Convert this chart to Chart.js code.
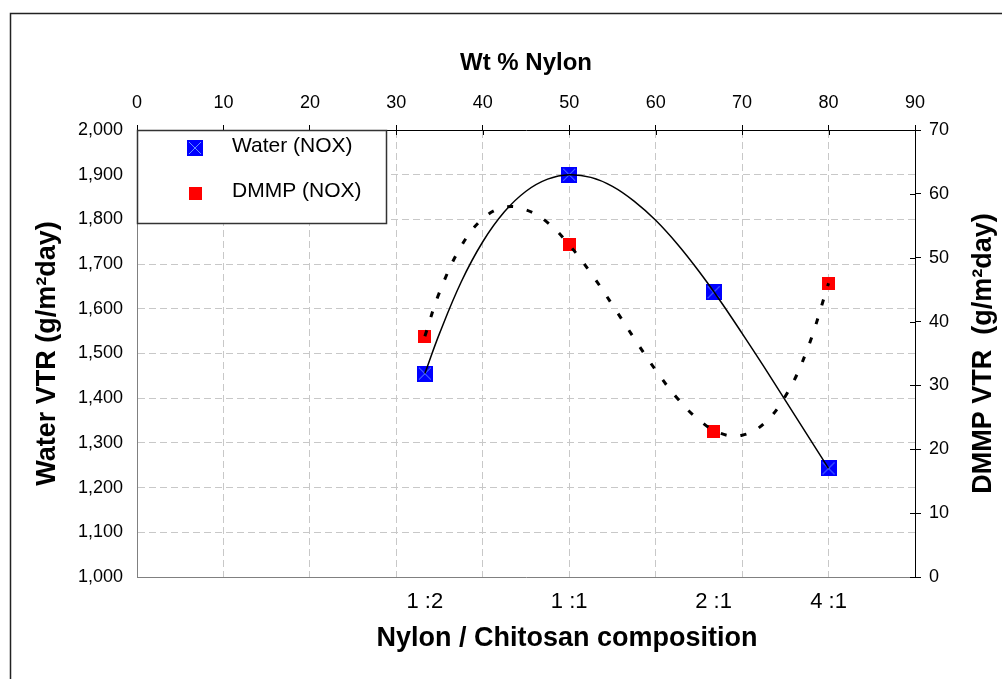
<!DOCTYPE html>
<html>
<head>
<meta charset="utf-8">
<script src="https://cdn.jsdelivr.net/npm/chart.js@4.4.1/dist/chart.umd.min.js"></script>
<style>
  html, body { margin: 0; padding: 0; background: #fff; }
  #wrap { width: 1002px; height: 679px; }
</style>
</head>
<body>
<div id="wrap"><canvas id="vtrChart" width="1002" height="679"></canvas></div>
<script>
// data
const wtNylon = [33.3, 50, 66.7, 80];
const compLabels = ['1 :2', '1 :1', '2 :1', '4 :1'];
const waterVTR = [1455, 1900, 1637, 1243];
const dmmpVTR = [37.7, 52, 22.8, 46];

// trend lines, sampled along the drawn curves
const trendX = [33.3, 35, 37.5, 40, 42.5, 45, 47.5, 50, 52.5, 55, 57.5, 60, 62.5, 65, 67.5, 70, 72.5, 75, 77.5, 80];
const waterTrend = [1455, 1545, 1660, 1750, 1817, 1863, 1890, 1900, 1894, 1874, 1841, 1798, 1745, 1684, 1617, 1545, 1471, 1395, 1319, 1243];
const dmmpTrend = [37.7, 44.6, 51.8, 56.1, 57.9, 57.5, 55.5, 52, 47.6, 42.6, 37.4, 32.4, 28.0, 24.6, 22.5, 22.2, 24.0, 28.3, 35.5, 46];

const FONT = "'Liberation Sans', Arial, sans-serif";

// marker images
function makeWaterMark() {
    const c = document.createElement('canvas');
    c.width = 16; c.height = 16;
    const g = c.getContext('2d');
    g.fillStyle = '#0000ff';
    g.fillRect(0, 0, 16, 16);
    g.strokeStyle = '#6690ff';
    g.lineWidth = 1;
    g.beginPath();
    g.moveTo(2, 2); g.lineTo(14, 14);
    g.moveTo(14, 2); g.lineTo(2, 14);
    g.stroke();
    return c;
}
function makeDmmpMark() {
    const c = document.createElement('canvas');
    c.width = 13; c.height = 13;
    const g = c.getContext('2d');
    g.fillStyle = '#ff0000';
    g.fillRect(0, 0, 13, 13);
    return c;
}
const waterMark = makeWaterMark();
const dmmpMark = makeDmmpMark();

const pts = (xs, ys) => xs.map((x, i) => ({ x: x, y: ys[i] }));

// outer frame + white background
const framePlugin = {
    id: 'framePlugin',
    beforeDraw(chart) {
        const c = chart.ctx;
        c.save();
        c.fillStyle = '#fff';
        c.fillRect(0, 0, chart.width, chart.height);
        c.strokeStyle = '#222';
        c.lineWidth = 1.5;
        c.strokeRect(10.5, 13.5, chart.width + 20, chart.height + 20);
        c.restore();
    }
};

// short ticks inside the plot on top and right axes
const innerTicks = {
    id: 'innerTicks',
    afterDraw(chart) {
        const c = chart.ctx, a = chart.chartArea;
        const top = chart.scales.xTop, right = chart.scales.y2;
        c.save();
        c.strokeStyle = '#000';
        c.lineWidth = 1;
        top.ticks.forEach(t => {
            const x = Math.round(top.getPixelForValue(t.value)) + 0.5;
            c.beginPath(); c.moveTo(x, a.top); c.lineTo(x, a.top + 5); c.stroke();
        });
        right.ticks.forEach(t => {
            const y = Math.round(right.getPixelForValue(t.value)) + 0.5;
            c.beginPath(); c.moveTo(a.right - 5, y); c.lineTo(a.right, y); c.stroke();
        });
        c.restore();
    }
};

// bottom title and right title (reads bottom to top)
const extraTitles = {
    id: 'extraTitles',
    afterDraw(chart) {
        const c = chart.ctx, a = chart.chartArea;
        c.save();
        c.fillStyle = '#000';
        c.font = 'bold 27px ' + FONT;
        c.textAlign = 'center';
        c.textBaseline = 'middle';
        c.fillText('Nylon / Chitosan composition', 567, 639);
        c.translate(984, (a.top + a.bottom) / 2);
        c.rotate(-Math.PI / 2);
        c.fillText('DMMP VTR  (g/m\u00B2day)', 0, 0);
        c.restore();
    }
};

// boxed legend in the top-left corner of the plot
const boxLegend = {
    id: 'boxLegend',
    afterDraw(chart) {
        const c = chart.ctx, a = chart.chartArea;
        const x0 = a.left, y0 = a.top, w = 249, h = 93;
        c.save();
        c.fillStyle = '#fff';
        c.fillRect(x0, y0, w, h);
        c.strokeStyle = '#333';
        c.lineWidth = 1.5;
        c.strokeRect(x0 + 0.5, y0 + 0.5, w, h);
        const items = chart.data.datasets.filter(d => d.type === 'scatter');
        const rowY = [y0 + 18, y0 + 63];
        c.font = '21px ' + FONT;
        c.fillStyle = '#000';
        c.textAlign = 'left';
        c.textBaseline = 'middle';
        items.forEach((d, i) => {
            const img = d.pointStyle;
            c.drawImage(img, x0 + 58 - img.width / 2, rowY[i] - img.height / 2);
            c.fillText(d.label, x0 + 95, rowY[i] - 2);
        });
        c.restore();
    }
};

const ctx = document.getElementById('vtrChart').getContext('2d');
const vtrChart = new Chart(ctx, {
    type: 'scatter',
    data: {
        datasets: [
            {
                type: 'line',
                label: 'water trend',
                data: pts(trendX, waterTrend),
                xAxisID: 'x', yAxisID: 'y',
                borderColor: '#000', borderWidth: 1.5,
                pointRadius: 0, tension: 0.4, fill: false,
                order: 0
            },
            {
                type: 'line',
                label: 'dmmp trend',
                data: pts(trendX, dmmpTrend),
                xAxisID: 'x', yAxisID: 'y2',
                borderColor: '#000', borderWidth: 3, borderDash: [6, 14],
                pointRadius: 0, tension: 0.4, fill: false,
                order: 0
            },
            {
                type: 'scatter',
                label: 'Water (NOX)',
                data: pts(wtNylon, waterVTR),
                xAxisID: 'x', yAxisID: 'y',
                pointStyle: waterMark, pointRadius: 8,
                order: 1
            },
            {
                type: 'scatter',
                label: 'DMMP (NOX)',
                data: pts(wtNylon, dmmpVTR),
                xAxisID: 'x', yAxisID: 'y2',
                pointStyle: dmmpMark, pointRadius: 7,
                order: 1
            }
        ]
    },
    options: {
        responsive: false,
        animation: false,
        events: [],
        layout: { padding: 0 },
        plugins: {
            legend: { display: false },
            tooltip: { enabled: false }
        },
        scales: {
            x: {
                type: 'linear', position: 'bottom', min: 0, max: 90,
                afterBuildTicks: s => { s.ticks = wtNylon.map(v => ({ value: v })); },
                afterFit: s => { s.height = 102; },
                grid: { display: false, drawTicks: false },
                border: { color: '#808080', width: 1 },
                ticks: {
                    callback: (v, i) => compLabels[i],
                    font: { family: FONT, size: 22 }, color: '#000',
                    padding: 12, autoSkip: false, maxRotation: 0
                }
            },
            xTop: {
                type: 'linear', position: 'top', min: 0, max: 90,
                afterFit: s => { s.height = 130; },
                grid: {
                    color: c => (c.tick && (c.tick.value === 0 || c.tick.value === 90)) ? 'rgba(0,0,0,0)' : '#c8c8c8',
                    tickColor: '#000', tickLength: 5
                },
                border: { color: '#000', width: 1, dash: [7, 4] },
                ticks: { stepSize: 10, font: { family: FONT, size: 18 }, color: '#000', padding: 11 },
                title: {
                    display: true, text: 'Wt % Nylon', color: '#000',
                    font: { family: FONT, size: 24, weight: 'bold' },
                    padding: { top: 49, bottom: 0 }
                }
            },
            y: {
                type: 'linear', position: 'left', min: 1000, max: 2000,
                afterFit: s => { s.width = 137; },
                grid: {
                    color: c => (c.tick && (c.tick.value === 1000 || c.tick.value === 2000)) ? 'rgba(0,0,0,0)' : '#c8c8c8',
                    drawTicks: false
                },
                border: { color: '#808080', width: 1, dash: [7, 4] },
                ticks: {
                    stepSize: 100,
                    callback: v => v.toLocaleString('en-US'),
                    font: { family: FONT, size: 18 }, color: '#000', padding: 14
                },
                title: {
                    display: true, text: 'Water VTR (g/m\u00B2day)', color: '#000',
                    font: { family: FONT, size: 27, weight: 'bold' },
                    padding: { top: 31, bottom: 0 }
                }
            },
            y2: {
                type: 'linear', position: 'right', min: 0, max: 70,
                afterFit: s => { s.width = 87; },
                grid: { drawOnChartArea: false, tickColor: '#000', tickLength: 6 },
                border: { color: '#000', width: 1 },
                ticks: { stepSize: 10, font: { family: FONT, size: 18 }, color: '#000', padding: 8 }
            }
        }
    },
    plugins: [framePlugin, innerTicks, extraTitles, boxLegend]
});
</script>
</body>
</html>
